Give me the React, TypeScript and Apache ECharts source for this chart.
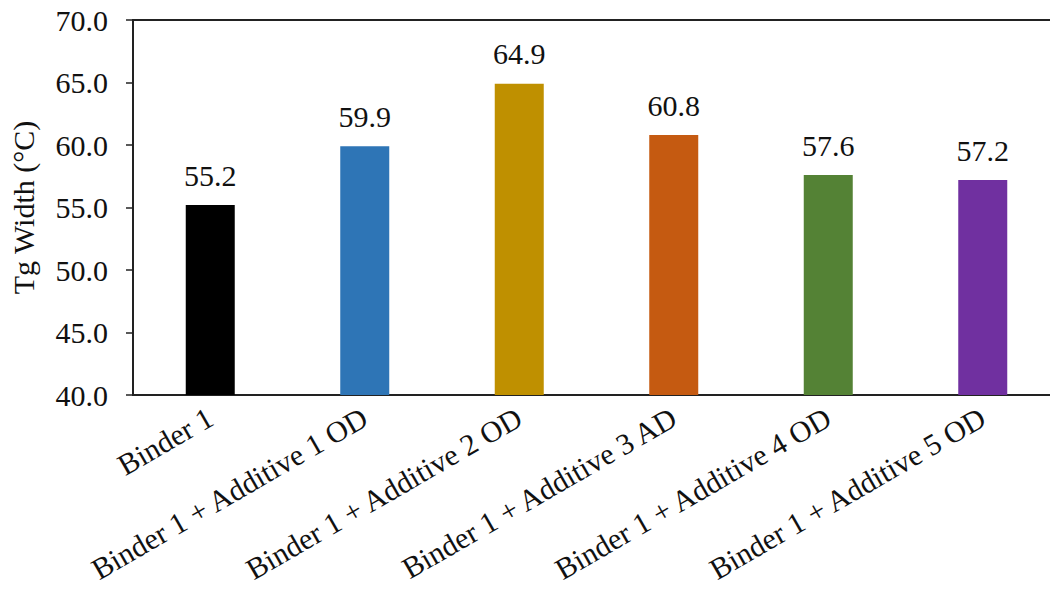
import React, { useEffect, useRef } from "react";
import * as echarts from "echarts";

const categories = [
  "Binder 1",
  "Binder 1 + Additive 1 OD",
  "Binder 1 + Additive 2 OD",
  "Binder 1 + Additive 3 AD",
  "Binder 1 + Additive 4 OD",
  "Binder 1 + Additive 5 OD",
];
const values = [55.2, 59.9, 64.9, 60.8, 57.6, 57.2];
const barColors = ["#000000", "#2E75B6", "#BF9000", "#C55A11", "#548235", "#7030A0"];
const yAxisTitle = "Tg Width (°C)";
const yMin = 40;
const yMax = 70;
const yStep = 5;

const FONT = "'Liberation Serif', 'Times New Roman', serif";
const TEXT = "#111111";
const LINE = "#222222";
const FS = 30;

export default function App() {
  const ref = useRef<HTMLDivElement>(null);
  useEffect(() => {
    document.body.style.margin = "0";
    const chart = echarts.init(ref.current!, null, { renderer: "svg" });
    chart.setOption({
      animation: false,
      backgroundColor: "#ffffff",
      textStyle: { fontFamily: FONT },
      grid: {
        left: 124,
        top: 20,
        width: 936,
        height: 375,
        show: true,
        borderColor: LINE,
        borderWidth: 2,
        backgroundColor: "transparent",
      },
      xAxis: {
        type: "category",
        data: categories,
        axisLine: { show: true, lineStyle: { color: LINE, width: 2 } },
        axisTick: { show: false },
        axisLabel: {
          interval: 0,
          rotate: 30,
          margin: 20,
          fontSize: FS,
          fontFamily: FONT,
          color: TEXT,
        },
      },
      yAxis: {
        type: "value",
        min: yMin,
        max: yMax,
        interval: yStep,
        name: yAxisTitle,
        nameLocation: "middle",
        nameGap: 95,
        nameTextStyle: { fontSize: FS, fontFamily: FONT, color: TEXT },
        splitLine: { show: false },
        axisLine: { show: true, lineStyle: { color: LINE, width: 2 } },
        axisTick: { show: true, length: 7, lineStyle: { color: LINE, width: 1.5 } },
        axisLabel: {
          margin: 25,
          fontSize: FS,
          fontFamily: FONT,
          color: TEXT,
          formatter: (v: number) => v.toFixed(1),
        },
      },
      series: [
        {
          type: "bar",
          barWidth: 49,
          data: values.map((v, i) => ({ value: v, itemStyle: { color: barColors[i] } })),
          label: {
            show: true,
            position: "top",
            distance: 15,
            fontSize: FS,
            fontFamily: FONT,
            color: TEXT,
            formatter: (p: any) => Number(p.value).toFixed(1),
          },
        },
      ],
    });
    return () => chart.dispose();
  }, []);
  return (
    <div style={{ width: 1050, height: 592, overflow: "hidden", position: "relative" }}>
      <div ref={ref} style={{ width: 1080, height: 592 }} />
    </div>
  );
}
